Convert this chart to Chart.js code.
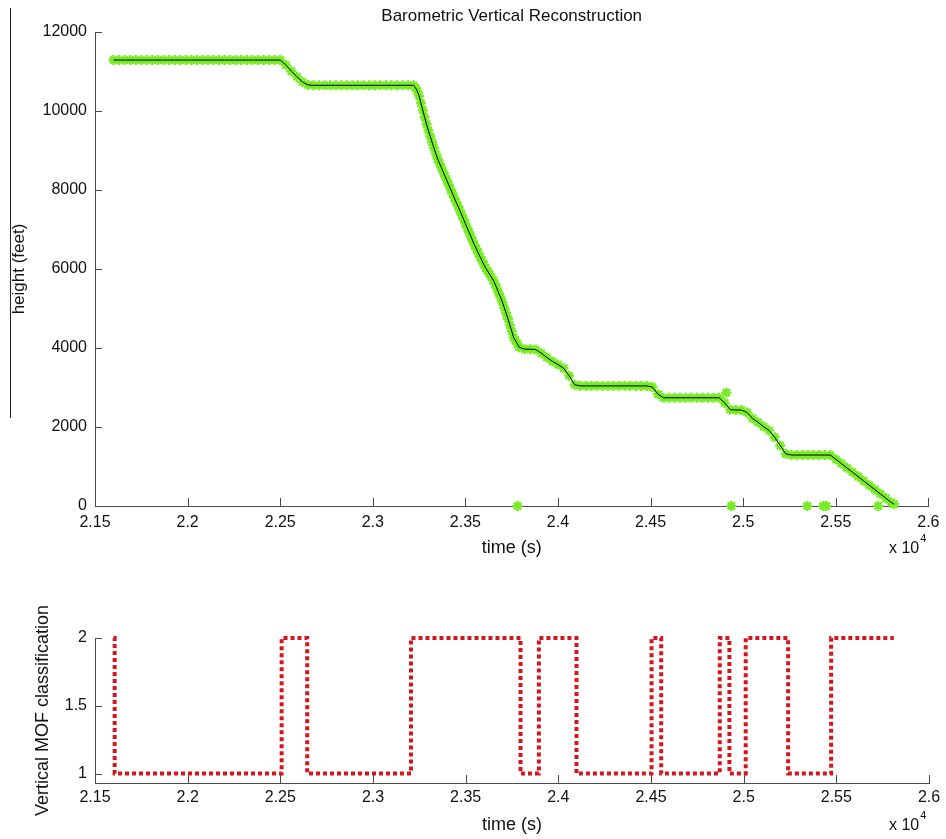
<!DOCTYPE html>
<html>
<head>
<meta charset="utf-8">
<title>Barometric Vertical Reconstruction</title>
<script src="https://cdn.jsdelivr.net/npm/chart.js@4.4.1/dist/chart.umd.min.js"></script>
<style>
  html, body { margin: 0; padding: 0; background: #fff; }
  #wrap { position: relative; width: 946px; height: 839px; }
  #top { position: absolute; left: 0; top: 0; }
  #bottom { position: absolute; left: 0; top: 566px; }
</style>
</head>
<body>
<div id="wrap">
  <canvas id="top" width="946" height="566"></canvas>
  <canvas id="bottom" width="946" height="273"></canvas>
</div>
<script>
// ---- Barometric height track (time in seconds, height in feet) ----
// Level segments are logged every 30 s; the steep descent every 10 s.
const timeS = [
  21600, 21630, 21660, 21690, 21720, 21750, 21780, 21810, 21840, 21870,
  21900, 21930, 21960, 21990, 22020, 22050, 22080, 22110, 22140, 22170,
  22200, 22230, 22260, 22290, 22320, 22350, 22380, 22410, 22440, 22470,
  22500, 22530, 22560, 22590, 22620, 22650, 22680, 22710, 22740, 22770,
  22800, 22830, 22860, 22890, 22920, 22950, 22980, 23010, 23040, 23070,
  23100, 23130, 23160, 23190, 23220,
  23230, 23240, 23250, 23260, 23270, 23280, 23290, 23300, 23310, 23320,
  23330, 23340, 23350, 23360, 23370, 23380, 23390, 23400, 23410, 23420,
  23430, 23440, 23450, 23460, 23470, 23480, 23490, 23500, 23510, 23520,
  23530, 23540, 23550, 23560, 23570, 23580, 23590, 23600, 23610, 23620,
  23630, 23640, 23650, 23660, 23670, 23680, 23690, 23700, 23710, 23720,
  23730, 23740, 23750, 23760, 23770, 23780, 23790,
  23820, 23850, 23880, 23910, 23940, 23970,
  24000, 24030, 24060, 24090, 24120, 24150, 24180, 24210, 24240, 24270,
  24300, 24330, 24360, 24390, 24420, 24450, 24480, 24510, 24540, 24570,
  24600, 24630, 24660, 24690, 24720, 24750, 24780, 24810, 24840, 24870,
  24900, 24930, 24960, 24990, 25020, 25050, 25080, 25110, 25140, 25170,
  25200, 25230, 25260, 25290, 25320, 25350, 25380, 25410, 25440, 25470,
  25500, 25530, 25560, 25590, 25620, 25650, 25680, 25710, 25740, 25770,
  25800, 25815
];
const heightFt = [
  11290, 11290, 11290, 11290, 11290, 11290, 11290, 11290, 11290, 11290,
  11290, 11290, 11290, 11290, 11290, 11290, 11290, 11290, 11290, 11290,
  11290, 11290, 11290, 11290, 11290, 11290, 11290, 11290, 11290, 11290,
  11290, 11170, 11010, 10870, 10735, 10660, 10650, 10650, 10650, 10650,
  10650, 10650, 10650, 10650, 10650, 10650, 10650, 10650, 10650, 10650,
  10650, 10650, 10650, 10650, 10650,
  10590, 10510, 10380, 10200, 10020, 9840, 9670, 9510, 9360, 9210,
  9070, 8920, 8790, 8680, 8570, 8460, 8350, 8240, 8130, 8020,
  7910, 7800, 7690, 7590, 7480, 7370, 7260, 7150, 7040, 6930,
  6820, 6710, 6600, 6500, 6400, 6300, 6210, 6110, 6020, 5950,
  5870, 5800, 5720, 5620, 5510, 5390, 5280, 5160, 5020, 4880,
  4740, 4580, 4430, 4270, 4190, 4110, 4020,
  3970, 3970, 3960, 3870, 3760, 3660,
  3580, 3490, 3300, 3070, 3040, 3040, 3040, 3040, 3040, 3040,
  3040, 3040, 3040, 3040, 3040, 3040, 3040, 3010, 2830, 2740,
  2740, 2740, 2740, 2740, 2740, 2740, 2740, 2740, 2740, 2740,
  2610, 2440, 2430, 2430, 2370, 2220, 2120, 2010, 1910, 1740,
  1530, 1320, 1290, 1290, 1290, 1290, 1290, 1290, 1290, 1290,
  1185, 1075, 966, 856, 747, 637, 528, 418, 309, 199,
  90, 45
];
// Stray barometer readings that the reconstruction rejects
const strayTimeS = [23782, 24909, 24936, 25346, 25432, 25448, 25729];
const strayHeightFt = [0, 2870, 0, 0, 0, 0, 0];

// ---- Vertical MOF classification (value starts at the given time) ----
const classTimeS = [21600, 21606, 22507, 22645, 23205, 23796, 23895, 24098,
                    24503, 24555, 24871, 24923, 25011, 25240, 25472, 25810];
const classValue = [2, 1, 2, 1, 2, 1, 2, 1, 2, 1, 2, 1, 2, 1, 2, 2];

// ---- Axis ticks ----
const timeTicks = [21500, 22000, 22500, 23000, 23500, 24000, 24500, 25000, 25500, 26000];
const heightTicks = [0, 2000, 4000, 6000, 8000, 10000, 12000];
const classTicks = [1, 1.5, 2];

const FONT = '"Liberation Sans", Arial, Helvetica, sans-serif';
const AXIS = '#4a4a4a';
const GREEN = 'rgb(118, 236, 34)';
const RED = '#d4151c';
Chart.defaults.font.family = FONT;
Chart.defaults.color = '#111';

// Ticks pointing into the plot, the time exponent, and the frame edge line
const innerTicks = {
  id: 'innerTicks',
  afterDraw(chart, args, opts) {
    const { ctx, chartArea } = chart;
    const x = chart.scales.x, y = chart.scales.y;
    ctx.save();
    ctx.strokeStyle = AXIS;
    ctx.lineWidth = 1;
    x.ticks.forEach(t => {
      const px = Math.round(x.getPixelForValue(t.value)) + 0.5;
      ctx.beginPath();
      ctx.moveTo(px, chartArea.bottom);
      ctx.lineTo(px, chartArea.bottom - opts.xLen);
      ctx.stroke();
    });
    y.ticks.forEach(t => {
      const py = Math.round(y.getPixelForValue(t.value)) + 0.5;
      ctx.beginPath();
      ctx.moveTo(chartArea.left, py);
      ctx.lineTo(chartArea.left + opts.yLen, py);
      ctx.stroke();
    });
    // "x 10^4" multiplier for the time axis
    ctx.fillStyle = '#111';
    ctx.textBaseline = 'middle';
    ctx.textAlign = 'left';
    ctx.font = '16px ' + FONT;
    const ey = chartArea.bottom + 43;
    ctx.fillText('x 10', 889, ey);
    const w = ctx.measureText('x 10').width;
    ctx.font = '11px ' + FONT;
    ctx.fillText('4', 889 + w + 1, ey - 10);
    if (opts.edgeLine) {
      ctx.strokeStyle = '#222';
      ctx.beginPath();
      ctx.moveTo(10.5, 8);
      ctx.lineTo(10.5, 418);
      ctx.stroke();
    }
    ctx.restore();
  }
};

function timeAxis(labelPad, titlePadBottom, height) {
  return {
    type: 'linear',
    position: 'bottom',
    min: 21500,
    max: 26000,
    afterBuildTicks(s) { s.ticks = timeTicks.map(v => ({ value: v })); },
    ticks: {
      callback: v => String(v / 10000),
      padding: labelPad,
      font: { size: 16 },
      maxRotation: 0,
      autoSkip: false
    },
    grid: { display: false, drawTicks: false },
    border: { display: true, color: AXIS, width: 1 },
    title: { display: true, text: 'time (s)', font: { size: 18 }, padding: { top: 0, bottom: titlePadBottom } },
    afterFit(s) { s.height = height; }
  };
}

// Height over time
new Chart(document.getElementById('top'), {
  type: 'scatter',
  data: {
    datasets: [
      {
        label: 'reconstruction',
        data: timeS.map((t, i) => ({ x: t, y: heightFt[i] })),
        showLine: true,
        borderColor: '#000',
        borderWidth: 1,
        pointRadius: 0,
        order: 0
      },
      {
        label: 'barometer',
        data: timeS.map((t, i) => ({ x: t, y: heightFt[i] }))
          .concat(strayTimeS.map((t, i) => ({ x: t, y: strayHeightFt[i] }))),
        showLine: false,
        pointStyle: 'star',
        pointRadius: 5,
        pointBorderWidth: 2.4,
        borderColor: GREEN,
        backgroundColor: GREEN,
        clip: 8,
        order: 1
      }
    ]
  },
  options: {
    responsive: false,
    animation: false,
    layout: { padding: { left: 0, right: 17, top: 0, bottom: 0 } },
    plugins: {
      legend: { display: false },
      tooltip: { enabled: false },
      innerTicks: { xLen: 8, yLen: 7, edgeLine: true }
    },
    scales: {
      x: timeAxis(6.5, 7.2, 60),
      y: {
        type: 'linear',
        min: 0,
        max: 12000,
        afterBuildTicks(s) { s.ticks = heightTicks.map(v => ({ value: v })); },
        ticks: { callback: v => String(v), padding: 8, font: { size: 16 } },
        grid: { display: false, drawTicks: false },
        border: { display: true, color: AXIS, width: 1 },
        title: { display: true, text: 'height (feet)', font: { size: 17 }, padding: { top: 9, bottom: 0 } },
        afterFit(s) { s.width = 95; }
      },
      caption: {
        type: 'linear',
        axis: 'x',
        position: 'top',
        display: true,
        ticks: { display: false },
        grid: { display: false, drawTicks: false },
        border: { display: false },
        title: { display: true, text: 'Barometric Vertical Reconstruction', font: { size: 17 }, padding: { top: 6, bottom: 0 } },
        afterFit(s) { s.height = 32; }
      }
    }
  },
  plugins: [innerTicks]
});

// Classification over time
new Chart(document.getElementById('bottom'), {
  type: 'scatter',
  data: {
    datasets: [{
      label: 'Vertical MOF classification',
      data: classTimeS.map((t, i) => ({ x: t, y: classValue[i] })),
      showLine: true,
      stepped: true,
      borderColor: RED,
      borderWidth: 4,
      borderDash: [4, 3],
      borderCapStyle: 'butt',
      pointRadius: 0,
      clip: 6
    }]
  },
  options: {
    responsive: false,
    animation: false,
    layout: { padding: { left: 0, right: 17, top: 72, bottom: 0 } },
    plugins: {
      legend: { display: false },
      tooltip: { enabled: false },
      innerTicks: { xLen: 8, yLen: 7, edgeLine: false }
    },
    scales: {
      x: timeAxis(5, 3.2, 56),
      y: {
        type: 'linear',
        min: 0.93,
        max: 2,
        afterBuildTicks(s) { s.ticks = classTicks.map(v => ({ value: v })); },
        ticks: { callback: v => String(v), padding: 8, font: { size: 16 } },
        grid: { display: false, drawTicks: false },
        border: { display: true, color: AXIS, width: 1 },
        title: { display: true, text: 'Vertical MOF classification', font: { size: 18 }, padding: { top: 32.7, bottom: 0 } },
        afterFit(s) { s.width = 95; }
      }
    }
  },
  plugins: [innerTicks]
});
</script>
</body>
</html>
